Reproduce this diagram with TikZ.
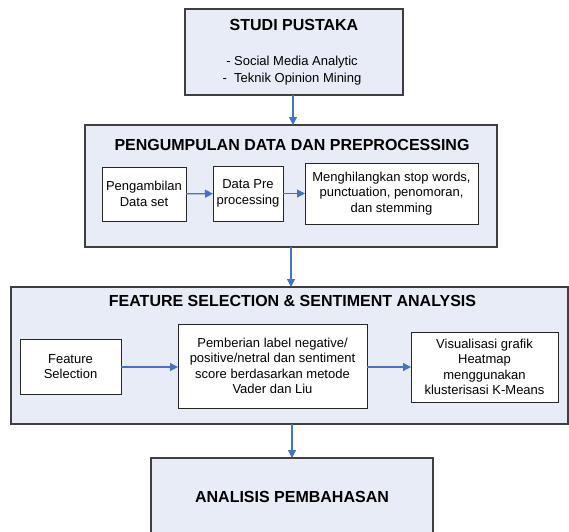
\documentclass[tikz,border=0pt]{standalone}
\usepackage{fontspec}
\setmainfont{Liberation Sans}
\usetikzlibrary{arrows.meta}
\definecolor{panelfill}{HTML}{E7ECF6}
\definecolor{panelline}{HTML}{3F3F3F}
\definecolor{flowblue}{HTML}{4472C4}
\tikzset{
  panel/.style={draw=panelline, line width=1.1pt, fill=panelfill, inner sep=0pt, outer sep=0pt},
  stepbox/.style={draw=black!85, line width=0.9pt, fill=white, inner sep=0pt, outer sep=0pt},
  paneltitle/.style={font=\fontsize{16}{19}\selectfont\bfseries, inner sep=0pt},
  bodytext/.style={font=\fontsize{13}{15.5}\selectfont, align=center, inner sep=0pt},
  flow/.style={draw=flowblue, line width=1.2pt, -{Triangle[length=8pt,width=8pt]}, fill=flowblue}
}
\begin{document}
\begin{tikzpicture}[x=1pt,y=-1pt]
\useasboundingbox (0,0) rectangle (569,531);

% Literature study
\node[panel, minimum width=218, minimum height=86] (studi) at (294,52) {};
\node[paneltitle] (studiT) at (294,25) {STUDI PUSTAKA};
\node[bodytext, font=\fontsize{13}{17}\selectfont] (studiB) at (292,70.5)
  {- Social Media Analytic\\-\ \ Teknik Opinion Mining};

% Data collection and preprocessing
\node[panel, minimum width=412, minimum height=122] (kumpul) at (291,186) {};
\node[paneltitle] (kumpulT) at (292,145) {PENGUMPULAN DATA DAN PREPROCESSING};
\node[stepbox, minimum width=84, minimum height=54] (ambil) at (144,194) {};
\node[bodytext] at (ambil) {Pengambilan\\Data set};
\node[stepbox, minimum width=70, minimum height=55] (prep) at (248,193.5) {};
\node[bodytext] at (prep) {Data Pre\\processing};
\node[stepbox, minimum width=173, minimum height=61] (hapus) at (391.5,193.5) {};
\node[bodytext] at (hapus) {Menghilangkan stop words,\\punctuation, penomoran,\\dan stemming};

% Feature selection and sentiment analysis
\node[panel, minimum width=557, minimum height=137] (fitur) at (289.5,355.5) {};
\node[paneltitle] (fiturT) at (292.5,301) {FEATURE SELECTION \& SENTIMENT ANALYSIS};
\node[stepbox, minimum width=101, minimum height=55] (fs) at (70.5,366.5) {};
\node[bodytext] at (fs) {Feature\\Selection};
\node[stepbox, minimum width=189, minimum height=84] (label) at (272.5,366) {};
\node[bodytext] at (label) {Pemberian label negative/\\positive/netral dan sentiment\\score berdasarkan metode\\Vader dan Liu};
\node[stepbox, minimum width=147, minimum height=70] (vis) at (484.5,367) {};
\node[bodytext] at (vis) {Visualisasi grafik\\Heatmap\\menggunakan\\klusterisasi K-Means};

% Discussion
\node[panel, minimum width=282, minimum height=90] (bahas) at (292,503) {};
\node[paneltitle] (bahasT) at (292,497) {ANALISIS PEMBAHASAN};

% Connectors
\draw[flow] (studi.south -| 293,0) -- (kumpul.north -| 293,0);
\draw[flow] (kumpul.south -| 291,0) -- (fitur.north -| 291,0);
\draw[flow] (fitur.south -| 292,0) -- (bahas.north -| 292,0);
\draw[flow] (ambil) -- (prep);
\draw[flow] (prep) -- (hapus);
\draw[flow] (fs.east |- 0,367) -- (label.west |- 0,367);
\draw[flow] (label.east |- 0,367) -- (vis.west |- 0,367);
\end{tikzpicture}
\end{document}
